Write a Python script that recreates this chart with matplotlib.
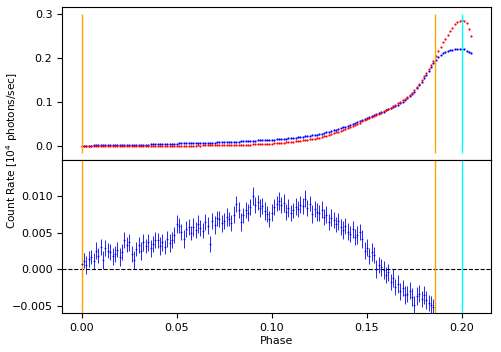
import numpy as np
import matplotlib
matplotlib.use("Agg")
import matplotlib.pyplot as plt
from matplotlib.ticker import MultipleLocator

# ---------------- data ----------------
phase = np.round(np.arange(165) * 0.00125, 5)   # phase bins 0 ... 0.205

red_rate = [
    0.0000, 0.0001, 0.0000, -0.0002, 0.0001, 0.0000, 0.0002, 0.0001, 0.0000, 0.0003,
    0.0001, 0.0002, 0.0000, 0.0002, 0.0003, 0.0001, 0.0003, 0.0004, 0.0002, 0.0004,
    0.0003, 0.0005, 0.0004, 0.0006, 0.0005, 0.0007, 0.0006, 0.0008, 0.0007, 0.0009,
    0.0008, 0.0010, 0.0009, 0.0011, 0.0010, 0.0012, 0.0011, 0.0013, 0.0012, 0.0014,
    0.0013, 0.0015, 0.0014, 0.0016, 0.0017, 0.0016, 0.0018, 0.0017, 0.0019, 0.0020,
    0.0019, 0.0021, 0.0022, 0.0021, 0.0023, 0.0024, 0.0023, 0.0025, 0.0026, 0.0027,
    0.0026, 0.0028, 0.0029, 0.0030, 0.0031, 0.0032, 0.0034, 0.0035, 0.0037, 0.0038,
    0.0040, 0.0042, 0.0044, 0.0046, 0.0048, 0.0051, 0.0053, 0.0056, 0.0059, 0.0062,
    0.0065, 0.0068, 0.0072, 0.0076, 0.0080, 0.0084, 0.0089, 0.0094, 0.0100, 0.0106,
    0.0112, 0.0118, 0.0125, 0.0133, 0.0140, 0.0149, 0.0157, 0.0167, 0.0176, 0.0187,
    0.0198, 0.0212, 0.0227, 0.0243, 0.0260, 0.0279, 0.0299, 0.0315, 0.0333, 0.0351,
    0.0370, 0.0391, 0.0412, 0.0435, 0.0458, 0.0482, 0.0508, 0.0535, 0.0563, 0.0593,
    0.0624, 0.0647, 0.0671, 0.0694, 0.0718, 0.0741, 0.0765, 0.0789, 0.0818, 0.0848,
    0.0878, 0.0908, 0.0938, 0.0970, 0.1002, 0.1040, 0.1080, 0.1122, 0.1166, 0.1213,
    0.1265, 0.1350, 0.1420, 0.1500, 0.1580, 0.1660, 0.1750, 0.1840, 0.1930, 0.2040,
    0.2150, 0.2250, 0.2350, 0.2430, 0.2520, 0.2610, 0.2680, 0.2775, 0.2812, 0.2834,
    0.2848, 0.2835, 0.2780, 0.2660, 0.2500,
]

blue_rate = [
    0.0008, 0.0011, 0.0013, 0.0013, 0.0018, 0.0020, 0.0024, 0.0025, 0.0026, 0.0030,
    0.0027, 0.0028, 0.0024, 0.0026, 0.0026, 0.0024, 0.0025, 0.0028, 0.0026, 0.0030,
    0.0033, 0.0035, 0.0035, 0.0037, 0.0036, 0.0039, 0.0039, 0.0042, 0.0042, 0.0045,
    0.0045, 0.0048, 0.0047, 0.0050, 0.0049, 0.0052, 0.0052, 0.0056, 0.0057, 0.0062,
    0.0065, 0.0068, 0.0068, 0.0071, 0.0072, 0.0071, 0.0074, 0.0074, 0.0077, 0.0078,
    0.0077, 0.0080, 0.0082, 0.0082, 0.0085, 0.0087, 0.0087, 0.0090, 0.0092, 0.0094,
    0.0094, 0.0097, 0.0099, 0.0101, 0.0103, 0.0106, 0.0110, 0.0112, 0.0115, 0.0117,
    0.0120, 0.0126, 0.0130, 0.0132, 0.0133, 0.0135, 0.0137, 0.0139, 0.0141, 0.0144,
    0.0147, 0.0153, 0.0157, 0.0161, 0.0165, 0.0169, 0.0174, 0.0179, 0.0185, 0.0191,
    0.0197, 0.0203, 0.0210, 0.0218, 0.0225, 0.0234, 0.0240, 0.0249, 0.0257, 0.0267,
    0.0277, 0.0290, 0.0303, 0.0316, 0.0330, 0.0347, 0.0365, 0.0379, 0.0395, 0.0411,
    0.0428, 0.0447, 0.0466, 0.0486, 0.0507, 0.0529, 0.0553, 0.0577, 0.0601, 0.0626,
    0.0652, 0.0670, 0.0689, 0.0707, 0.0726, 0.0745, 0.0766, 0.0787, 0.0812, 0.0838,
    0.0864, 0.0890, 0.0916, 0.0945, 0.0974, 0.1010, 0.1048, 0.1089, 0.1132, 0.1178,
    0.1229, 0.1313, 0.1382, 0.1461, 0.1540, 0.1618, 0.1706, 0.1794, 0.1882, 0.1950,
    0.2010, 0.2060, 0.2100, 0.2130, 0.2155, 0.2170, 0.2182, 0.2192, 0.2200, 0.2205,
    0.2200, 0.2190, 0.2160, 0.2135, 0.2110,
]

diff_rate = [
    0.0008, 0.0012, 0.0006, 0.0015, 0.0017, 0.0011, 0.0026, 0.0019, 0.0031, 0.0013,
    0.0030, 0.0026, 0.0024, 0.0018, 0.0021, 0.0027, 0.0017, 0.0024, 0.0040, 0.0034,
    0.0037, 0.0021, 0.0013, 0.0028, 0.0033, 0.0025, 0.0037, 0.0032, 0.0037, 0.0029,
    0.0035, 0.0040, 0.0040, 0.0032, 0.0037, 0.0031, 0.0042, 0.0036, 0.0040, 0.0047,
    0.0062, 0.0060, 0.0051, 0.0042, 0.0055, 0.0058, 0.0050, 0.0058, 0.0054, 0.0062,
    0.0057, 0.0053, 0.0065, 0.0060, 0.0035, 0.0067, 0.0061, 0.0070, 0.0069, 0.0063,
    0.0067, 0.0072, 0.0069, 0.0064, 0.0075, 0.0090, 0.0082, 0.0065, 0.0074, 0.0081,
    0.0078, 0.0085, 0.0101, 0.0088, 0.0092, 0.0084, 0.0087, 0.0080, 0.0076, 0.0069,
    0.0078, 0.0085, 0.0090, 0.0094, 0.0088, 0.0091, 0.0079, 0.0084, 0.0077, 0.0081,
    0.0086, 0.0083, 0.0089, 0.0087, 0.0097, 0.0084, 0.0090, 0.0076, 0.0083, 0.0079,
    0.0078, 0.0082, 0.0072, 0.0075, 0.0065, 0.0071, 0.0068, 0.0062, 0.0066, 0.0058,
    0.0054, 0.0060, 0.0052, 0.0049, 0.0055, 0.0044, 0.0047, 0.0051, 0.0042, 0.0026,
    0.0030, 0.0019, 0.0024, 0.0020, 0.0001, 0.0006, 0.0003, -0.0001, -0.0008, -0.0004,
    -0.0017, -0.0012, -0.0024, -0.0020, -0.0030, -0.0026, -0.0035, -0.0033, -0.0029, -0.0038,
    -0.0048, -0.0036, -0.0033, -0.0040, -0.0035, -0.0042, -0.0046, -0.0049, -0.0052,
]

diff_err = [
    0.0011, 0.0010, 0.0012, 0.0011, 0.0010, 0.0011, 0.0012, 0.0010, 0.0011, 0.0012,
    0.0011, 0.0010, 0.0011, 0.0012, 0.0011, 0.0010, 0.0012, 0.0011, 0.0011, 0.0010,
    0.0012, 0.0011, 0.0012, 0.0010, 0.0011, 0.0012, 0.0011, 0.0010, 0.0011, 0.0012,
    0.0011, 0.0011, 0.0010, 0.0012, 0.0011, 0.0010, 0.0011, 0.0012, 0.0011, 0.0011,
    0.0012, 0.0010, 0.0011, 0.0012, 0.0011, 0.0011, 0.0010, 0.0012, 0.0011, 0.0012,
    0.0011, 0.0010, 0.0011, 0.0012, 0.0011, 0.0011, 0.0012, 0.0010, 0.0011, 0.0012,
    0.0011, 0.0012, 0.0010, 0.0011, 0.0012, 0.0011, 0.0011, 0.0012, 0.0010, 0.0011,
    0.0012, 0.0011, 0.0012, 0.0011, 0.0010, 0.0012, 0.0011, 0.0012, 0.0011, 0.0011,
    0.0012, 0.0011, 0.0010, 0.0012, 0.0011, 0.0012, 0.0011, 0.0012, 0.0011, 0.0010,
    0.0012, 0.0011, 0.0012, 0.0011, 0.0012, 0.0011, 0.0010, 0.0012, 0.0011, 0.0012,
    0.0011, 0.0012, 0.0011, 0.0012, 0.0011, 0.0012, 0.0011, 0.0010, 0.0012, 0.0011,
    0.0012, 0.0011, 0.0012, 0.0011, 0.0012, 0.0011, 0.0012, 0.0011, 0.0012, 0.0011,
    0.0012, 0.0011, 0.0012, 0.0011, 0.0012, 0.0011, 0.0012, 0.0012, 0.0011, 0.0012,
    0.0011, 0.0012, 0.0011, 0.0012, 0.0012, 0.0011, 0.0012, 0.0011, 0.0012, 0.0012,
    0.0011, 0.0012, 0.0012, 0.0011, 0.0012, 0.0012, 0.0011, 0.0012, 0.0012,
]

marker_phases = [0.0, 0.186, 0.2]
marker_colors = ["orange", "orange", "cyan"]
vline_range = [-0.015, 0.3]
diff_yticks = [-0.005, 0.0, 0.005, 0.010]

# ---------------- plot ----------------
plt.rcParams["font.size"] = 8
fig = plt.figure(figsize=(5.01, 3.52), dpi=100)
gs = fig.add_gridspec(2, 1, left=0.124, right=0.980, top=0.981, bottom=0.110, hspace=0)
ax1 = fig.add_subplot(gs[0])
ax2 = fig.add_subplot(gs[1], sharex=ax1)

n_diff = len(diff_rate)

ax1.plot(phase, blue_rate, ".", color="blue", ms=3.2, mew=0)
ax1.plot(phase, red_rate, ".", color="red", ms=3.2, mew=0)
ax1.vlines(marker_phases, vline_range[0], vline_range[1], colors=marker_colors, lw=1)
ax1.yaxis.set_major_locator(MultipleLocator(0.1))
ax1.tick_params(axis="x", bottom=False, labelbottom=False)

ax2.errorbar(phase[:n_diff], diff_rate, yerr=diff_err, fmt=".", color="blue",
             ms=2.6, mew=0, ecolor="blue", elinewidth=0.6, capsize=2.2, capthick=0.8)
ax2.axhline(0, color="black", ls="--", lw=0.8)
for xp, c in zip(marker_phases, marker_colors):
    ax2.axvline(xp, color=c, lw=1)
ax2.set_ylim(-0.006, 0.015)
ax2.set_yticks(diff_yticks)
ax2.set_xlabel("Phase", labelpad=2)

fig.text(0.024, 0.572, "Count Rate [10$^4$ photons/sec]", rotation=90,
         ha="center", va="center", fontsize=7.6)

fig.savefig("out.png", dpi=100)
